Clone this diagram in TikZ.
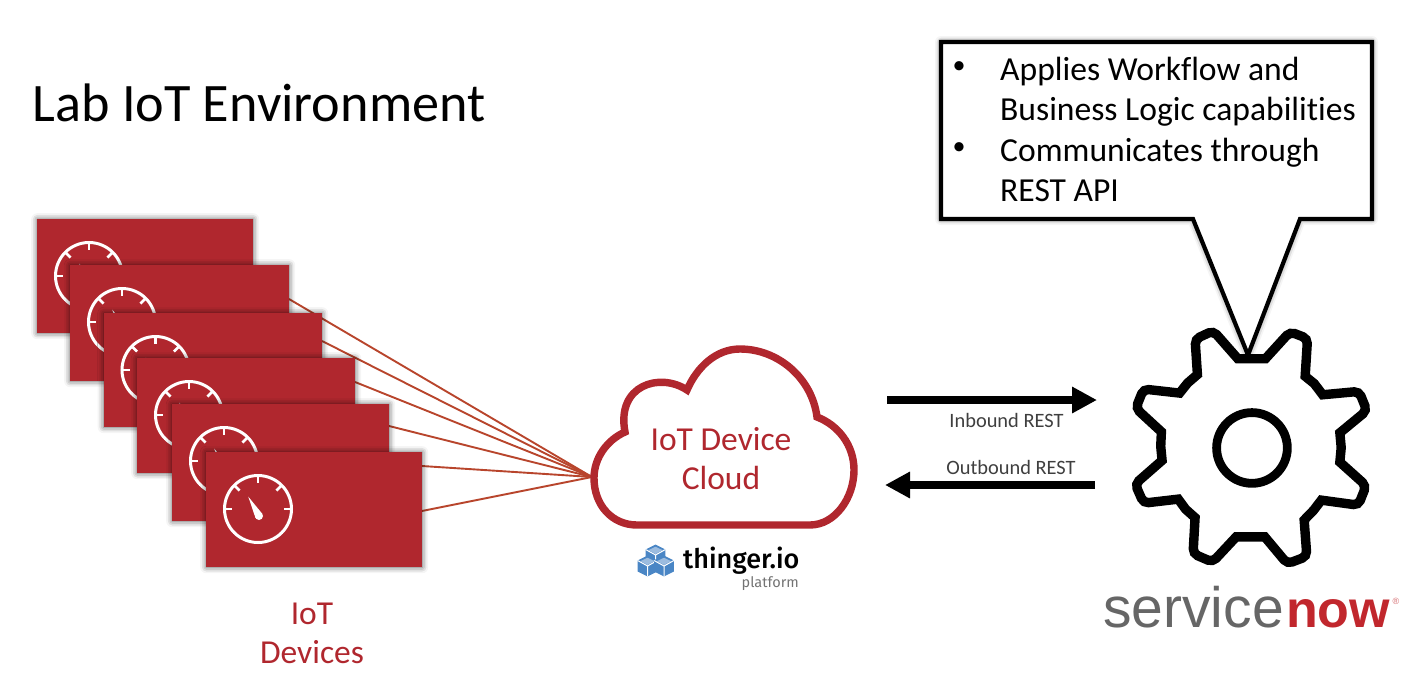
\documentclass[tikz,border=0pt]{standalone}
\usepackage{fontspec}
\setmainfont{Carlito}[Ligatures={NoCommon}]
\newfontfamily\thingerfont{Fira Sans}[UprightFont=* Medium]
\newfontfamily\platformfont{Fira Sans}
\newfontfamily\snfont{Liberation Sans}
\usetikzlibrary{arrows.meta,calc,shadows.blur}
\definecolor{labred}{HTML}{B0272E}
\definecolor{wire}{HTML}{B8452C}
\definecolor{cubeblue}{HTML}{4A86C5}
\definecolor{labelgray}{HTML}{3F3F3F}
\definecolor{snred}{HTML}{C1272D}
\definecolor{sngray}{HTML}{666666}
\newcommand{\fs}[1]{\fontsize{#1}{#1}\selectfont}
\newcommand{\gaugeat}[1]{%
  \begin{scope}[shift={($(#1.north west)+(52,57)$)}]
    \draw[white,line width=3pt] (0,0) circle (33.5);
    \foreach \a in {0,-45,-90,-135,-180}
      \draw[white,line width=2.6pt] (\a:33.5) -- (\a:26);
    \fill[white] (-9.7,-12.3) -- (4.5,5.06) -- (-2.5,8.94) -- cycle;
    \fill[white] (1,7) circle (4);
  \end{scope}}
\newcommand{\cubeat}[2]{%
  \begin{scope}[shift={(#1,#2)},scale=1.1]
    \fill[cubeblue] (0,-9.5) -- (9,-5) -- (9,5) -- (0,9.5) -- (-9,5) -- (-9,-5) -- cycle;
    \fill[cubeblue!55!white] (0,-7.5) -- (6.5,-4.4) -- (0,-1) -- (-6.5,-4.4) -- cycle;
    \draw[white,line width=1pt] (0,9.5) -- (0,0) (0,0) -- (9,-5) (0,0) -- (-9,-5);
  \end{scope}}
\tikzset{
  softshadow/.style={blur shadow={shadow xshift=0pt,shadow yshift=0pt,shadow blur radius=6pt,shadow opacity=65}},
  device/.style={fill=labred,draw=none,inner sep=0pt,anchor=north west,softshadow},
  wireline/.style={wire,line width=1.9pt},
  restarrow/.style={line width=8.5pt,-{Triangle[length=25pt,width=25pt]}},
  restlabel/.style={labelgray,font=\fs{20.4},inner sep=0pt,anchor=base},
  calloutline/.style={anchor=base west,inner sep=0pt,font=\fs{33.6}},
  callbullet/.style={anchor=center,inner sep=0pt,font=\fs{26}},
  redlabel/.style={labred,font=\fs{33.5},inner sep=0pt,anchor=base},
}
\begin{document}
\begin{tikzpicture}[x=1pt,y=-1pt]
\useasboundingbox (0,0) rectangle (1425,697);
% title
\node[anchor=base west,inner sep=0pt,font=\fs{54.2}] (title) at (32.5,121) {Lab IoT Environment};
% wires, behind the device cards
\coordinate (cloudin) at (592,477);
\coordinate (w2) at (289,299);
\coordinate (w3) at (322,341);
\coordinate (w4) at (355,382);
\coordinate (w5) at (389,426);
\coordinate (w6) at (422,466);
\coordinate (w7) at (422,511);
\foreach \w in {w2,w3,w4,w5,w6,w7} \draw[wireline] (\w) -- (cloudin);
% devices
\node[device,minimum width=216pt,minimum height=114pt] (d1) at (37,219) {};
\gaugeat{d1}
\node[device,minimum width=219pt,minimum height=116pt] (d2) at (70,265) {};
\gaugeat{d2}
\node[device,minimum width=218.5pt,minimum height=114pt] (d3) at (103.5,313) {};
\gaugeat{d3}
\node[device,minimum width=218pt,minimum height=115pt] (d4) at (137,358) {};
\gaugeat{d4}
\node[device,minimum width=217pt,minimum height=117pt] (d5) at (172,404) {};
\gaugeat{d5}
\node[device,minimum width=216pt,minimum height=115pt] (d6) at (206,452) {};
\gaugeat{d6}
\node[redlabel] (devlabel1) at (312,624) {IoT};
\node[redlabel] (devlabel2) at (312,663) {Devices};
% cloud
\draw[labred,line width=7.4pt,fill=white,line join=miter]
  (637,525) -- (810,525) .. controls (835,525) and (854,498) .. (854,470)
  .. controls (854,445) and (838,425) .. (817,417)
  .. controls (812,378) and (778,349) .. (740,349)
  .. controls (716,349) and (697,367) .. (687,390)
  .. controls (660,372) and (616,385) .. (625,432)
  .. controls (607,440) and (594,458) .. (594,478)
  .. controls (594,505) and (612,525) .. (637,525) -- cycle;
\node[redlabel] (cl1) at (721,450) {IoT Device};
\node[redlabel] (cl2) at (721,489) {Cloud};
% thinger logo
\cubeat{655.5}{555}
\cubeat{647.5}{566}
\cubeat{664}{566}
\node[anchor=base west,inner sep=0pt,font=\thingerfont\fs{27}] (thinger) at (683,568) {thinger.io};
\node[anchor=base east,inner sep=0pt,black!55,font=\platformfont\fs{14.5}] (platform) at (799,587) {platform};
% REST arrows
\coordinate (inA) at (887,400);
\coordinate (inB) at (1097,400);
\coordinate (outA) at (1095,485);
\coordinate (outB) at (885,485);
\draw[restarrow] (inA) -- (inB);
\draw[restarrow] (outA) -- (outB);
\node[restlabel] (inlabel) at (1006.5,427) {Inbound REST};
\node[restlabel] (outlabel) at (1011,474) {Outbound REST};
% callout
\draw[line width=4.2pt,fill=white,line join=miter,softshadow]
  (941,42) -- (1372,42) -- (1372,219) -- (1300,219) -- (1248,355) -- (1193,219) -- (941,219) -- cycle;
\node[callbullet] (b1) at (959,68) {•};
\node[callbullet] (b2) at (959,149) {•};
\node[calloutline] (t1) at (1000,80) {Applies Workflow and};
\node[calloutline] (t2) at (1000,120) {Business Logic capabilities};
\node[calloutline] (t3) at (1000,161) {Communicates through};
\node[calloutline] (t4) at (1000,201) {REST API};
% gear
\begin{scope}[shift={(1088,319)},x=0.3367pt,y=-0.3367pt]
  \draw[line width=9.4pt,fill=white,line join=miter]
   (445,118) -- (527,118) [rounded corners=5pt] -- (600,38) -- (652,58) [sharp corners] -- (645,170) -- (672,192) -- (697,225)
   [rounded corners=5pt] -- (805,215) -- (828,272) [sharp corners] -- (748,338) -- (752,382) -- (748,425)
   [rounded corners=5pt] -- (826,495) -- (803,553) [sharp corners] -- (693,538) -- (670,568) -- (642,597)
   [rounded corners=5pt] -- (650,705) -- (592,727) [sharp corners] -- (525,647) -- (440,647)
   [rounded corners=5pt] -- (370,722) -- (312,697) [sharp corners] -- (318,590) -- (290,565) -- (268,535)
   [rounded corners=5pt] -- (165,547) -- (140,490) [sharp corners] -- (220,420)
   -- (216,378) -- (218,335) [rounded corners=5pt] -- (142,265) -- (165,208) [sharp corners] -- (272,220) -- (296,190) -- (325,165)
   [rounded corners=5pt] -- (318,60) -- (372,35) [sharp corners] -- cycle;
  \draw[line width=8.8pt] (487,383) circle (105);
\end{scope}
% servicenow logo
\node[anchor=base west,inner sep=0pt,sngray,font=\snfont\fs{57}] (sn1) at (1103,627) {service};
\node[anchor=base west,inner sep=0pt,snred,font=\snfont\bfseries\fs{52}] (sn2) at (1286,627) {now};
\node[anchor=center,inner sep=0pt,snred!70!white,font=\snfont\fs{9}] (sn3) at (1396,601) {®};
\end{tikzpicture}
\end{document}
